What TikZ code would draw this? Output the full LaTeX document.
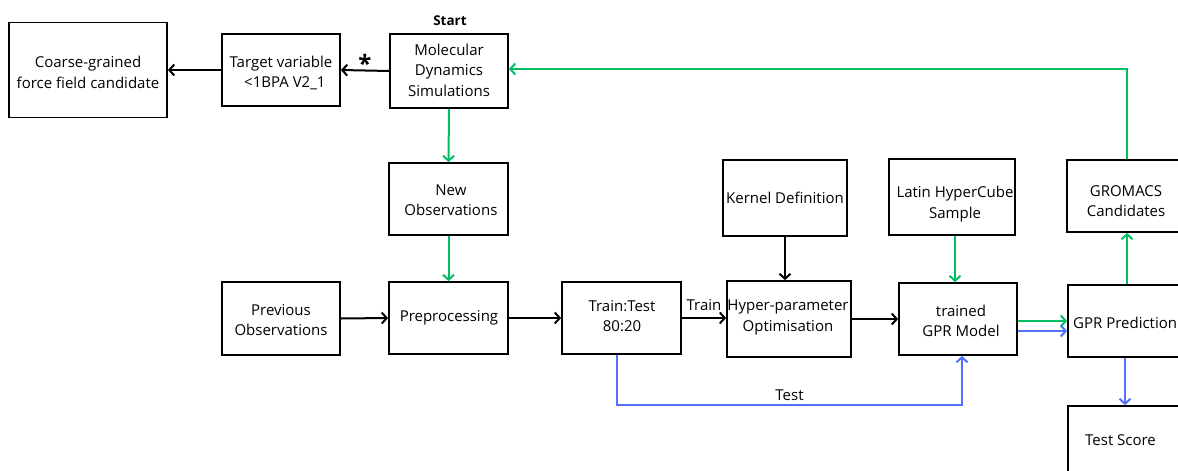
\documentclass[tikz,border=0pt]{standalone}
\usepackage{fontspec}
\setmainfont{Open Sans}
\usetikzlibrary{arrows.meta,calc}
\definecolor{cgreen}{HTML}{00BF63}
\definecolor{cblue}{HTML}{5271FF}
\tikzset{
  box/.style={draw=black, line width=1.8pt, fill=white, inner sep=0pt},
  txt/.style={font=\fontsize{15}{20.5}\selectfont, align=center, inner sep=0pt},
  conn/.style={line width=2pt, -{Straight Barb[length=5pt,width=11pt,line width=2pt]}},
  gconn/.style={conn, draw=cgreen},
  bconn/.style={conn, draw=cblue},
}
\begin{document}
\begin{tikzpicture}[x=1pt,y=-1pt]
\useasboundingbox (0,0) rectangle (1178,471);
\clip (0,0) rectangle (1178,471);
\fill[white] (0,0) rectangle (1178,471);
% boxes
\node[box, minimum width=158, minimum height=95] (cg) at (88,70) {};
\node[box, minimum width=118, minimum height=72] (tv) at (281,70) {};
\node[box, minimum width=118, minimum height=74] (md) at (449,71) {};
\node[box, minimum width=119, minimum height=72] (no) at (448.5,199) {};
\node[box, minimum width=118, minimum height=73] (po) at (281,318.5) {};
\node[box, minimum width=119, minimum height=72] (pp) at (448.5,318) {};
\node[box, minimum width=119, minimum height=72] (tt) at (621.5,318) {};
\node[box, minimum width=124, minimum height=76] (kd) at (785,198) {};
\node[box, minimum width=124, minimum height=76] (hp) at (789,319) {};
\node[box, minimum width=126, minimum height=76] (lh) at (952,197) {};
\node[box, minimum width=118, minimum height=72] (gm) at (958,319) {};
\node[box, minimum width=130, minimum height=72] (gc) at (1132,196) {};
\node[box, minimum width=130, minimum height=72] (gp) at (1133,321) {};
\node[box, minimum width=130, minimum height=80] (ts) at (1133,446) {};
% texts
\node[txt] at (88,72.5) {Coarse-grained\\force field candidate};
\node[txt] at (281,73) {Target variable\\\ \ {<}1BPA V2\_1};
\node[txt] at (449,70) {Molecular\\Dynamics\\Simulations};
\node[txt] at (449,200) {\ New\\\ Observations};
\node[txt] at (449,318) {Preprocessing};
\node[txt] at (281,320) {Previous\\Observations};
\node[txt] at (622,316) {Train:Test\\80:20};
\node[txt] at (785,198) {Kernel Definition};
\node[txt] at (788,317.5) {Hyper-parameter\\Optimisation};
\node[txt] at (955,204) {Latin HyperCube\\Sample};
\node[txt] at (961,321) {trained\\GPR Model};
\node[txt] at (1126,201) {GROMACS\\Candidates};
\node[txt, anchor=west] at (1073,323) {GPR Prediction};
\node[txt, anchor=west] at (1085,440) {Test Score};
\node[txt, font=\fontsize{13.5}{15}\selectfont\bfseries] (start) at (450,21) {Start};
\node[txt, font=\fontsize{24}{24}\selectfont\bfseries] (ast) at (365,63) {*};
% connectors
\draw[conn] (md.west) -- (tv.east);
\draw[conn] (tv.west) -- (tv.west -| cg.east);
\draw[gconn] (md.south) -- (no.north);
\draw[gconn] (no.south) -- (pp.north);
\draw[conn] (po.east) -- (pp.west);
\draw[conn] (pp.east) -- (tt.west);
\draw[conn] (tt.east) -- node[txt, above=6pt] {Train} (tt.east -| hp.west);
\draw[conn] (kd.south) -- (kd.south |- hp.north);
\draw[conn] (hp.east) -- (hp.east -| gm.west);
\draw[gconn] (lh.south -| gm.north) ++(-3,0) coordinate (lha) -- (lha |- gm.north);
\draw[gconn] ([yshift=-2pt]gm.east) -- ([yshift=-2pt]gm.east -| gp.west);
\draw[bconn] ([yshift=-12pt]gm.east) -- ([yshift=-12pt]gm.east -| gp.west);
\draw[gconn] ([xshift=-6pt]gp.north) -- ([xshift=-6pt]gp.north |- gc.south);
\draw[gconn] ([xshift=-5pt]gc.north) |- ([yshift=2pt]md.east);
\draw[bconn] ([xshift=-8pt]gp.south) -- ([xshift=-8pt]gp.south |- ts.north);
\draw[bconn] ([xshift=-4.5pt]tt.south) |- ++(0,50) -| node[txt, pos=0.25, above=3pt] {Test} ([xshift=4pt]gm.south);
\end{tikzpicture}
\end{document}
